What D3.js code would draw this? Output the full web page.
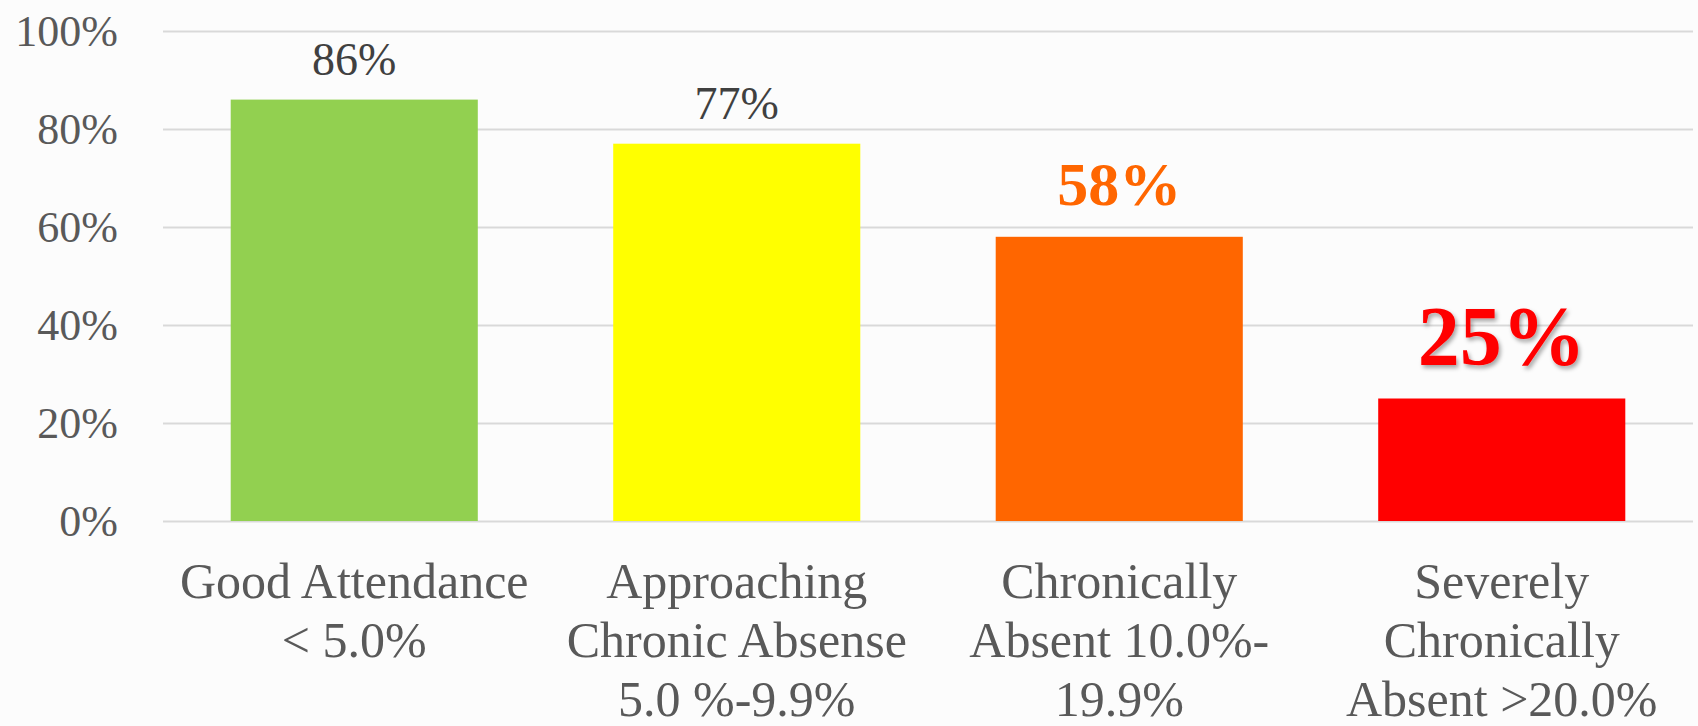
<!DOCTYPE html>
<html>
<head>
<meta charset="utf-8">
<script src="https://cdn.jsdelivr.net/npm/d3@7"></script>
<style>
  html, body { margin: 0; padding: 0; background: #fcfcfc; }
  svg { display: block; font-family: "Liberation Serif", "DejaVu Serif", serif; }
</style>
</head>
<body>
<svg id="chart" width="1698" height="726"></svg>
<script>
// data
const categories = ["good", "approaching", "chronic", "severe"];
const categoryLines = [
  ["Good Attendance", "< 5.0%"],
  ["Approaching", "Chronic Absense", "5.0 %-9.9%"],
  ["Chronically", "Absent 10.0%-", "19.9%"],
  ["Severely", "Chronically", "Absent >20.0%"]
];
const values = [86, 77, 58, 25];
const yTicks = [0, 20, 40, 60, 80, 100];

// look
const barColors = ["#92d050", "#ffff00", "#ff6600", "#ff0000"];
const labelStyles = [
  { size: 46, weight: "normal", color: "#404040", gap: 25 },
  { size: 46, weight: "normal", color: "#404040", gap: 25 },
  { size: 62, weight: "bold", color: "#ff6600", gap: 32 },
  { size: 84, weight: "bold", color: "#ff0000", gap: 34, shadow: true }
];

const svg = d3.select("#chart");
const margin = { left: 163, right: 1693, top: 31, bottom: 521 };

const defs = svg.append("defs");
defs.append("filter").attr("id", "shadow")
    .attr("x", "-20%").attr("y", "-20%").attr("width", "140%").attr("height", "140%")
  .append("feDropShadow")
    .attr("dx", 2).attr("dy", 3).attr("stdDeviation", 2)
    .attr("flood-color", "#000").attr("flood-opacity", 0.35);

const x = d3.scaleBand()
    .domain(categories)
    .range([margin.left, margin.right])
    .paddingInner(0.354)
    .paddingOuter(0.177);

const y = d3.scaleLinear()
    .domain([0, 100])
    .range([margin.bottom, margin.top]);

// y axis + gridlines
const yAxis = svg.append("g")
    .attr("transform", `translate(${margin.left},0)`)
    .call(d3.axisLeft(y)
      .tickValues(yTicks)
      .tickSize(-(margin.right - margin.left))
      .tickPadding(45)
      .tickFormat(d => d + "%"))
    .attr("font-family", null);
yAxis.select(".domain").remove();
yAxis.selectAll(".tick line").attr("stroke", "#d9d9d9").attr("stroke-width", 2);
yAxis.selectAll(".tick text")
    .attr("fill", "#595959")
    .attr("font-size", 44);

// bars
svg.append("g").selectAll("rect")
  .data(values)
  .join("rect")
    .attr("x", (d, i) => x(categories[i]))
    .attr("y", d => y(d))
    .attr("width", x.bandwidth())
    .attr("height", d => y(0) - y(d))
    .attr("fill", (d, i) => barColors[i]);

// value labels
svg.append("g").selectAll("text")
  .data(values)
  .join("text")
    .attr("x", (d, i) => x(categories[i]) + x.bandwidth() / 2)
    .attr("y", (d, i) => y(d) - labelStyles[i].gap)
    .attr("text-anchor", "middle")
    .attr("font-size", (d, i) => labelStyles[i].size)
    .attr("font-weight", (d, i) => labelStyles[i].weight)
    .attr("fill", (d, i) => labelStyles[i].color)
    .attr("filter", (d, i) => labelStyles[i].shadow ? "url(#shadow)" : null)
    .text(d => d + "%");

// category axis
const xAxis = svg.append("g")
    .attr("transform", `translate(0,${margin.bottom})`)
    .call(d3.axisBottom(x).tickSize(0).tickFormat(""))
    .attr("font-family", null);
xAxis.select(".domain").remove();
xAxis.selectAll(".tick text")
    .attr("y", 0).attr("dy", null)
    .attr("fill", "#595959")
    .attr("font-size", 50)
    .each(function (d, i) {
      d3.select(this).selectAll("tspan")
        .data(categoryLines[i])
        .join("tspan")
          .attr("x", 0)
          .attr("y", (t, j) => 77 + j * 59)
          .text(t => t);
    });
</script>
</body>
</html>
